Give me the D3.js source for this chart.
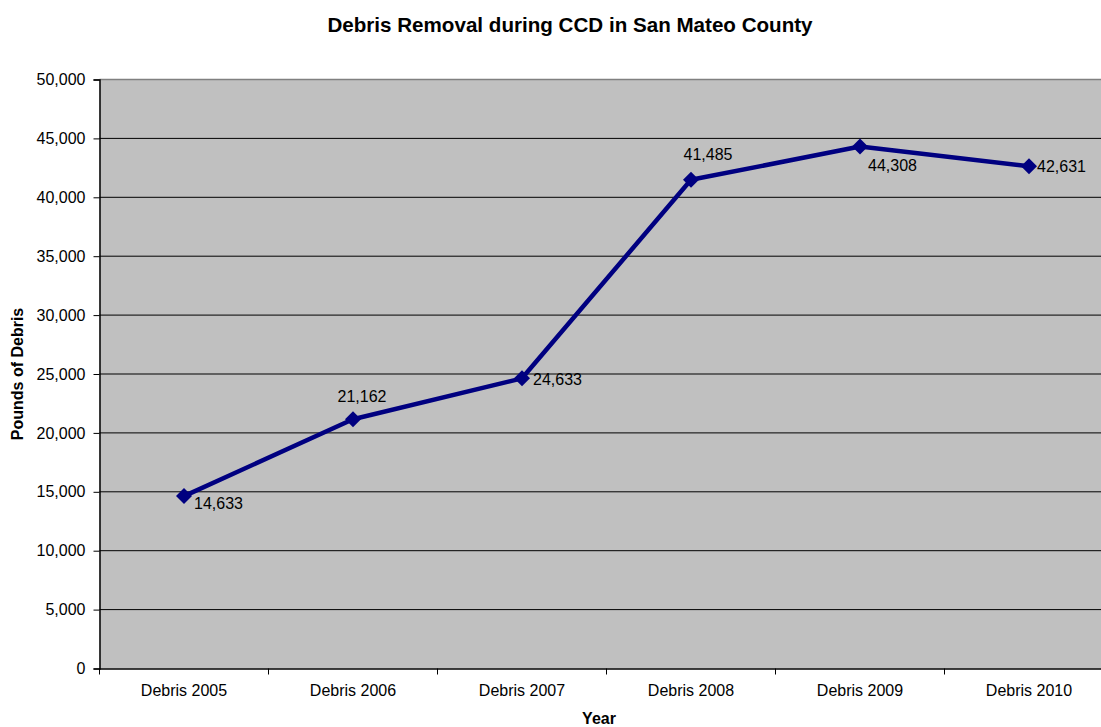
<!DOCTYPE html>
<html><head><meta charset="utf-8">
<script src="https://cdn.jsdelivr.net/npm/d3@7/dist/d3.min.js"></script>
<style>body{margin:0;background:#fff;overflow:hidden}svg{display:block;font-family:"Liberation Sans",Arial,sans-serif}</style>
</head><body>
<script>
const categories = ["Debris 2005","Debris 2006","Debris 2007","Debris 2008","Debris 2009","Debris 2010"];
const values = [14633, 21162, 24633, 41485, 44308, 42631];
const yTicks = [0,5000,10000,15000,20000,25000,30000,35000,40000,45000,50000];

const W = 1101, H = 727;
const FONT = '"Liberation Sans",Arial,sans-serif';
const m = {left: 99.5, top: 79.5, right: 1113.5, bottom: 668.5};
const svg = d3.select("body").append("svg").attr("width", W).attr("height", H);

const x = d3.scaleBand().domain(categories).range([m.left, m.right]);
const y = d3.scaleLinear().domain([0, 50000]).range([m.bottom, m.top]);

svg.append("rect").attr("x", m.left).attr("y", m.top).attr("width", m.right - m.left).attr("height", m.bottom - m.top).attr("fill", "#c0c0c0");

// gridlines
svg.append("g").selectAll("line").data(yTicks.filter(d => d > 0 && d < 50000)).join("line")
  .attr("x1", m.left).attr("x2", m.right).attr("y1", d => y(d)).attr("y2", d => y(d))
  .attr("stroke", "#000").attr("stroke-width", 1);
// top border
svg.append("line").attr("x1", m.left).attr("x2", m.right).attr("y1", y(50000)).attr("y2", y(50000)).attr("stroke", "#808080").attr("stroke-width", 1.5);

// y axis
const ya = svg.append("g").attr("transform", `translate(${m.left},0)`)
  .call(d3.axisLeft(y).tickValues(yTicks).tickSize(6).tickPadding(8).tickFormat(d3.format(",")));
ya.select(".domain").attr("stroke", "#000").attr("stroke-width", 1.5);
ya.selectAll("text").attr("font-size", 16).attr("fill", "#000").attr("font-family", FONT);

// x axis
const xa = svg.append("g").attr("transform", `translate(0,${m.bottom})`)
  .call(d3.axisBottom(x).tickSize(0).tickPadding(16));
xa.select(".domain").attr("stroke", "#000").attr("stroke-width", 1.5);
xa.selectAll("text").attr("font-size", 16).attr("fill", "#000").attr("font-family", FONT);
svg.append("g").selectAll("line").data(categories).join("line")
  .attr("x1", d => x(d)).attr("x2", d => x(d)).attr("y1", m.bottom).attr("y2", m.bottom + 6).attr("stroke", "#000");

// line
const cx = d => x(d) + x.bandwidth() / 2;
svg.append("path").datum(values)
  .attr("d", d3.line().x((d, i) => cx(categories[i])).y(d => y(d)))
  .attr("fill", "none").attr("stroke", "#000080").attr("stroke-width", 4.5).attr("stroke-linejoin", "round");
svg.append("g").selectAll("path").data(values).join("path")
  .attr("transform", (d, i) => `translate(${cx(categories[i])},${y(d)})`)
  .attr("d", "M0,-8L8,0L0,8L-8,0Z").attr("fill", "#000080");

// data labels (dx, dy, anchor)
const labelOffsets = [[10, 7, "start"], [9, -23, "middle"], [11, 1, "start"], [17, -25, "middle"], [8, 19, "start"], [8, 0, "start"]];
svg.append("g").selectAll("text").data(values).join("text")
  .attr("x", (d, i) => cx(categories[i]) + labelOffsets[i][0])
  .attr("y", (d, i) => y(d) + labelOffsets[i][1])
  .attr("text-anchor", (d, i) => labelOffsets[i][2])
  .attr("dy", "0.35em").attr("font-size", 16).attr("fill", "#000")
  .text(d => d3.format(",")(d));

// titles
svg.append("text").attr("x", 570).attr("y", 32).attr("text-anchor", "middle")
  .attr("font-size", 20.6).attr("font-weight", "bold").text("Debris Removal during CCD in San Mateo County");
svg.append("text").attr("x", 599).attr("y", 724).attr("text-anchor", "middle")
  .attr("font-size", 16).attr("font-weight", "bold").text("Year");
svg.append("text").attr("transform", "translate(23,374) rotate(-90)").attr("text-anchor", "middle")
  .attr("font-size", 16).attr("font-weight", "bold").text("Pounds of Debris");
</script>
</body></html>
